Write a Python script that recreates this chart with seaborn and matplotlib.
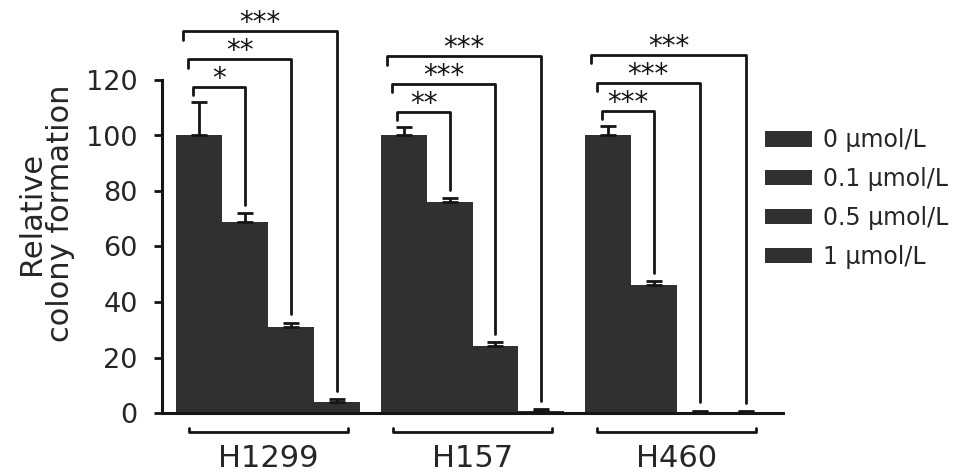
import matplotlib
matplotlib.use('Agg')
import matplotlib.pyplot as plt
import pandas as pd
import seaborn as sns

# ================= data =================
cells = ['H1299', 'H157', 'H460']
doses = ['0 μmol/L', '0.1 μmol/L', '0.5 μmol/L', '1 μmol/L']
h1299_vals = [100, 69, 31, 4]
h157_vals = [100, 76, 24, 0.8]
h460_vals = [100, 46, 0.5, 0.3]
h1299_err = [12, 3, 1.5, 1]
h157_err = [3, 1.5, 1.5, 0.5]
h460_err = [3.5, 1.5, 0.3, 0.3]
# significance of 0.1 / 0.5 / 1 umol/L against 0 umol/L
h1299_sig = ['*', '**', '***']
h157_sig = ['**', '***', '***']
h460_sig = ['***', '***', '***']
yticks = [0, 20, 40, 60, 80, 100, 120]

BAR_COLOR = '#303030'
LINE_COLOR = '#151515'

all_vals = [h1299_vals, h157_vals, h460_vals]
all_errs = [h1299_err, h157_err, h460_err]
all_sig = [h1299_sig, h157_sig, h460_sig]

rows = []
for cell, vals in zip(cells, all_vals):
    for dose, v in zip(doses, vals):
        rows.append({'cell': cell, 'dose': dose, 'value': v})
df = pd.DataFrame(rows)

sns.set_style('ticks')
plt.rcParams['font.family'] = ['DejaVu Sans']

fig = plt.figure(figsize=(9.56, 4.73), dpi=100)
ax = fig.add_axes([162 / 956, 1 - 413 / 473, (783 - 162) / 956, (413 - 80) / 473])

sns.barplot(data=df, x='cell', y='value', hue='dose', order=cells, hue_order=doses,
            palette=[BAR_COLOR] * 4, errorbar=None, width=0.9, linewidth=0,
            saturation=1, ax=ax)
bar_conts = list(ax.containers)

# error bars (upper half only, like the original)
for j, cont in enumerate(bar_conts):
    xs = [b.get_x() + b.get_width() / 2 for b in cont]
    ys = [all_vals[i][j] for i in range(len(cells))]
    es = [all_errs[i][j] for i in range(len(cells))]
    ax.errorbar(xs, ys, yerr=[[0] * len(es), es], fmt='none', ecolor=LINE_COLOR,
                elinewidth=2, capsize=6, capthick=2, clip_on=False, zorder=3)

# significance brackets
for i in range(len(cells)):
    bars = [bar_conts[j][i] for j in range(len(doses))]
    xc = [b.get_x() + b.get_width() / 2 for b in bars]
    caps = [v + e for v, e in zip(all_vals[i], all_errs[i])]
    top = caps[0] + 5.5
    for k in range(3):
        y_top = top + 10 * k
        x_left = xc[0] - 0.03 - 0.025 * k
        x_right = xc[k + 1]
        ax.plot([x_left, x_left, x_right, x_right],
                [y_top - 3, y_top, y_top, caps[k + 1] + 3],
                color=LINE_COLOR, lw=2, clip_on=False, solid_joinstyle='round')
        ax.text((x_left + x_right) / 2, y_top, all_sig[i][k], ha='center',
                va='baseline', fontsize=20, color=LINE_COLOR)

# group brackets below the axis
trans = ax.get_xaxis_transform()
for i in range(len(cells)):
    ax.plot([i - 0.39, i - 0.39, i + 0.39, i + 0.39], [-0.045, -0.058, -0.058, -0.045],
            transform=trans, color=LINE_COLOR, lw=2, clip_on=False)

ax.set_ylim(0, 120)
ax.set_xlim(-0.52, 2.52)
ax.set_yticks(yticks)
ax.set_xlabel('')
ax.set_ylabel('Relative\ncolony formation', fontsize=22, labelpad=8, linespacing=1.0, y=0.6)
ax.tick_params(axis='y', length=6, width=2, pad=11.5, labelsize=19.5, color=LINE_COLOR)
ax.tick_params(axis='x', length=0, pad=22, labelsize=22)
sns.despine(ax=ax)
for s in ['left', 'bottom']:
    ax.spines[s].set_linewidth(2.2)
    ax.spines[s].set_color(LINE_COLOR)

handles, labels = ax.get_legend_handles_labels()
ax.legend(handles, labels, loc='upper left', bbox_to_anchor=(765 / 956, 1 - 128 / 473),
          bbox_transform=fig.transFigure, frameon=False, fontsize=17, borderpad=0,
          borderaxespad=0, handlelength=2.0, handleheight=0.64, handletextpad=0.45,
          labelspacing=0.63)

fig.savefig('out.png', dpi=100)
